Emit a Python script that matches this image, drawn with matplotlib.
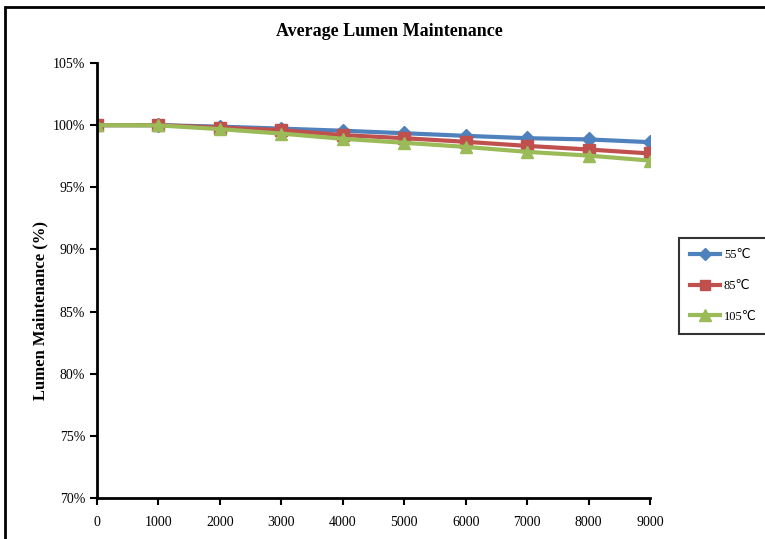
import matplotlib
matplotlib.use("Agg")
import matplotlib.pyplot as plt
from matplotlib.patches import Rectangle
from matplotlib.ticker import FuncFormatter

plt.rcParams['font.family'] = ['Liberation Serif', 'DejaVu Sans', 'Noto Sans CJK SC']

hours = [0, 1000, 2000, 3000, 4000, 5000, 6000, 7000, 8000, 9000]
t55 = [100.0, 100.0, 99.88, 99.72, 99.55, 99.35, 99.14, 98.95, 98.85, 98.63]
t85 = [100.0, 100.0, 99.80, 99.60, 99.20, 98.95, 98.66, 98.33, 98.04, 97.72]
t105 = [100.0, 99.98, 99.68, 99.32, 98.90, 98.58, 98.25, 97.85, 97.55, 97.15]
labels = ["55℃", "85℃", "105℃"]

fig = plt.figure(figsize=(7.65, 5.39), dpi=100)
ax = fig.add_axes([97 / 765, 1 - 498 / 539, (650 - 97) / 765, (498 - 63) / 539])

# chart frame like the spreadsheet chart object
fig.patches.append(Rectangle((5 / 765, -0.05), 1.0, 1 - 7 / 539 + 0.05,
                             transform=fig.transFigure, fill=False,
                             edgecolor='black', linewidth=2))

ax.plot(hours, t55, color='#4F81BD', marker='D', markersize=7, linewidth=3, label=labels[0])
ax.plot(hours, t85, color='#C0504D', marker='s', markersize=8, linewidth=3, label=labels[1])
ax.plot(hours, t105, color='#9BBB59', marker='^', markersize=9, linewidth=3, label=labels[2])

ax.set_xlim(0, 9000)
ax.set_ylim(70, 105)
ax.set_xticks(hours)
ax.set_yticks(range(70, 106, 5))
ax.yaxis.set_major_formatter(FuncFormatter(lambda v, p: "%d%%" % v))
ax.tick_params(axis='both', labelsize=10, direction='out', length=5, width=1.5, colors='black')
ax.tick_params(axis='x', pad=8)
ax.spines['top'].set_visible(False)
ax.spines['right'].set_visible(False)
ax.spines['left'].set_linewidth(2)
ax.spines['bottom'].set_linewidth(2)

fig.text(389 / 765, 1 - 31 / 539, "Average Lumen Maintenance", ha='center', va='center',
         fontsize=13, fontweight='bold')
fig.text(40 / 765, 1 - 310 / 539, "Lumen Maintenance (%)", rotation=90, ha='center',
         va='center', fontsize=12, fontweight='bold')

leg = ax.legend(loc='upper left', bbox_to_anchor=(679 / 765, 1 - 238 / 539),
                bbox_transform=fig.transFigure, frameon=True, fancybox=False,
                handlelength=2.4, handletextpad=0.3, borderpad=0.9, labelspacing=1.5,
                borderaxespad=0, markerscale=0.9,
                prop={'family': ['Liberation Serif', 'DejaVu Sans'], 'size': 9})
leg.get_frame().set_edgecolor('black')
leg.get_frame().set_linewidth(1.5)

fig.savefig("out.png", dpi=100)
